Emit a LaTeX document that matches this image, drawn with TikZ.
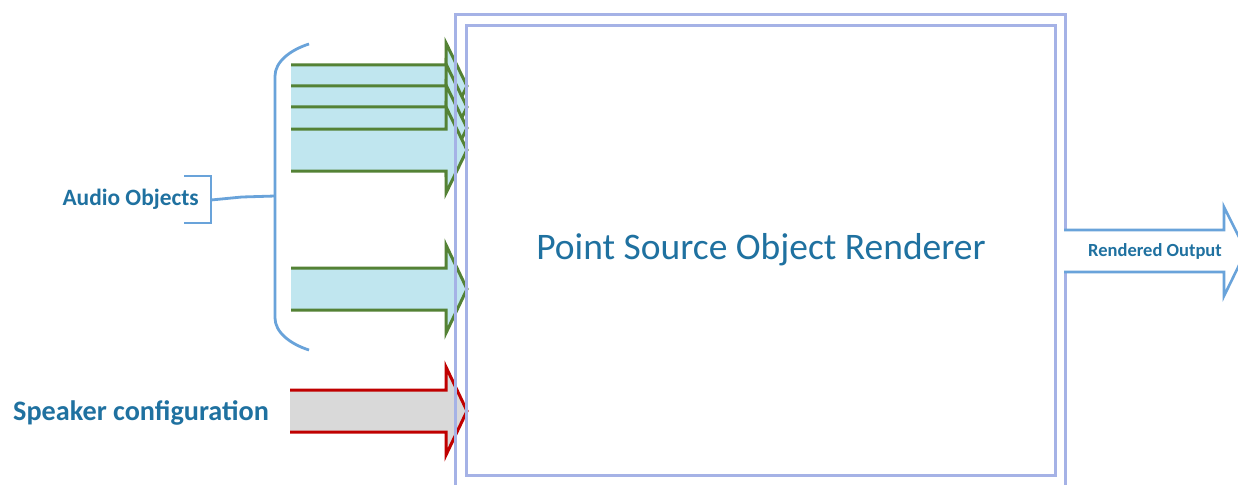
\documentclass[tikz,border=0pt]{standalone}
\usepackage{fontspec}
\setmainfont{Carlito}
\definecolor{txtblue}{RGB}{31,113,160}
\definecolor{framecol}{RGB}{165,178,230}
\definecolor{grn}{RGB}{84,130,53}
\definecolor{grnfill}{RGB}{192,230,239}
\definecolor{redc}{RGB}{192,0,0}
\definecolor{grayfill}{RGB}{217,217,217}
\definecolor{bracecol}{RGB}{105,163,218}
\tikzset{
  frameline/.style={draw=framecol, line width=3pt},
  greenarrow/.style={draw=grn, line width=3pt, line join=miter},
  redarrow/.style={draw=redc, line width=3pt, line join=miter},
  outarrow/.style={draw=bracecol, line width=2.6pt, line join=miter},
  bracestyle/.style={draw=bracecol, line width=2.8pt},
  lbl/.style={inner sep=0pt, text=txtblue, font=\bfseries}
}
\begin{document}
\begin{tikzpicture}[x=1pt,y=-1pt]
\clip (0,0) rectangle (1238,484);
\fill[white] (0,0) rectangle (1238,484);
% stacked green arrows
\foreach \c in {86,107,128,150}{
  \fill[grnfill] (291,\c-21) -- (446,\c-21) -- (446,\c-43) -- (467,\c) -- (446,\c+43) -- (446,\c+21) -- (291,\c+21) -- cycle;
  \draw[greenarrow] (291,\c-21) -- (446,\c-21) -- (446,\c-43) -- (467,\c) -- (446,\c+43) -- (446,\c+21) -- (291,\c+21);
}
% single green arrow
\fill[grnfill] (291,268) -- (446,268) -- (446,245) -- (467,289) -- (446,333) -- (446,310) -- (291,310) -- cycle;
\draw[greenarrow] (291,268) -- (446,268) -- (446,245) -- (467,289) -- (446,333) -- (446,310) -- (291,310);
% red arrow
\fill[grayfill] (290,390) -- (446,390) -- (446,367) -- (467,411) -- (446,455) -- (446,432) -- (290,432) -- cycle;
\draw[redarrow] (290,390) -- (446,390) -- (446,367) -- (467,411) -- (446,455) -- (446,432) -- (290,432);
% frames
\draw[frameline] (455,15) rectangle (1065,520);
\draw[frameline] (466,26) rectangle (1055,475);
% output arrow
\fill[white] (1064,230) -- (1224,230) -- (1224,207) -- (1246,251) -- (1224,296) -- (1224,272) -- (1064,272) -- cycle;
\draw[outarrow] (1064,230) -- (1224,230) -- (1224,207) -- (1246,251) -- (1224,296) -- (1224,272) -- (1064,272);
% brace and bracket
\coordinate (bmid) at (275,196);
\coordinate (bk) at (211,200);
\draw[bracestyle] (309,44) .. controls (290,50) and (275,62) .. (275,76) -- (275,318) .. controls (275,332) and (290,344) .. (309,350);
\draw[bracestyle] (bmid) -- (242,197) -- (bk);
\draw[bracestyle] (184,176) -- (211,176) -- (211,223) -- (184,223);
% labels
\node[lbl, anchor=east, font=\bfseries\fontsize{23.4}{27}\selectfont] (audio) at (199,199) {Audio Objects};
\node[lbl, anchor=west, font=\bfseries\fontsize{28.2}{32}\selectfont] (speaker) at (13,413) {Speaker configuration};
\node[lbl, font=\bfseries\fontsize{18.5}{22}\selectfont] (rendered) at (1155,251) {Rendered Output};
\node[inner sep=0pt, text=txtblue, font=\fontsize{37.5}{42}\selectfont] (title) at (761,250) {Point Source Object Renderer};
\end{tikzpicture}
\end{document}
